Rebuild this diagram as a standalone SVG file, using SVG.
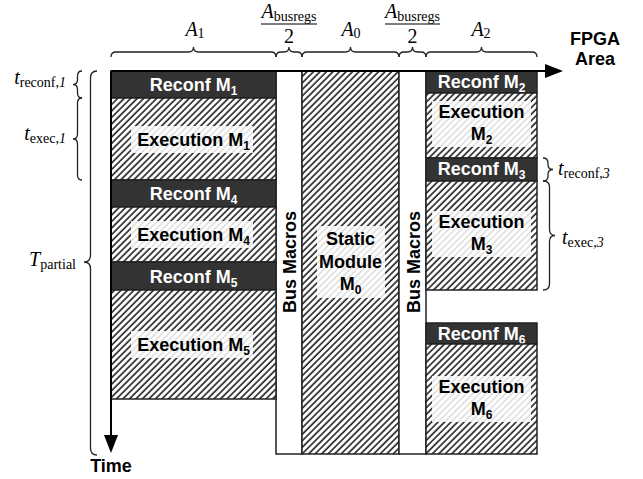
<svg xmlns="http://www.w3.org/2000/svg" width="643" height="479" viewBox="0 0 643 479">
<defs>
<pattern id="hatch" patternUnits="userSpaceOnUse" width="4.6" height="10" patternTransform="rotate(45)">
<rect width="4.6" height="10" fill="#fff"/>
<line x1="1" y1="0" x2="1" y2="10" stroke="#111" stroke-width="1.5"/>
</pattern>
<marker id="arr" markerUnits="userSpaceOnUse" markerWidth="20" markerHeight="16" refX="10" refY="7" orient="auto">
<path d="M0,0 L18,7 L0,14 z" fill="#000"/>
</marker>
</defs>
<style>
.hatch{fill:url(#hatch);stroke:#222;stroke-width:1.5}
.rc{fill:#333;stroke:#222;stroke-width:1.5}
.bus{fill:#fff;stroke:#222;stroke-width:1.5}
.lbl{font-family:"Liberation Sans",Arial,sans-serif;font-weight:bold;font-size:18px;text-anchor:middle}
.wl{fill:#fff}
.bl{fill:#000}
.bg{fill:#fff;opacity:0.85}
.sub{font-size:12px}
.m{font-family:"Liberation Serif","Times New Roman",serif;font-size:20px;fill:#000}
.it{font-style:italic}
.ms{font-size:14px}
.brace{fill:none;stroke:#222;stroke-width:1.3}
.axis{stroke:#000;stroke-width:2;fill:none}
</style>

<!-- Static and bus macro columns -->
<g id="busmacros-left">
<rect class="bus" x="276" y="71" width="26" height="383"/>
<text class="lbl bl" transform="translate(296,262) rotate(-90)" font-size="19">Bus Macros</text>
</g>
<g id="static-module">
<rect class="hatch" x="302" y="71" width="97" height="383"/>
<rect class="bg" x="317" y="226" width="68" height="72"/>
<text class="lbl bl" x="350.5" y="245">Static</text>
<text class="lbl bl" x="350.5" y="268">Module</text>
<text class="lbl bl" x="350.5" y="290">M<tspan class="sub" dy="4">0</tspan></text>
</g>
<g id="busmacros-right">
<rect class="bus" x="399" y="71" width="27" height="383"/>
<text class="lbl bl" transform="translate(420,262) rotate(-90)" font-size="19">Bus Macros</text>
</g>

<!-- A1 column -->
<g id="reconf-m1">
<rect class="rc" x="111" y="71" width="165" height="27"/>
<text class="lbl wl" x="193.5" y="91">Reconf M<tspan class="sub" dy="4">1</tspan></text>
</g>
<g id="exec-m1">
<rect class="hatch" x="111" y="98" width="165" height="82"/>
<rect class="bg" x="131" y="126" width="122" height="27"/>
<text class="lbl bl" x="193.5" y="146">Execution M<tspan class="sub" dy="4">1</tspan></text>
</g>
<g id="reconf-m4">
<rect class="rc" x="111" y="180" width="165" height="27"/>
<text class="lbl wl" x="193.5" y="200">Reconf M<tspan class="sub" dy="4">4</tspan></text>
</g>
<g id="exec-m4">
<rect class="hatch" x="111" y="207" width="165" height="55"/>
<rect class="bg" x="131" y="221" width="122" height="27"/>
<text class="lbl bl" x="193.5" y="241">Execution M<tspan class="sub" dy="4">4</tspan></text>
</g>
<g id="reconf-m5">
<rect class="rc" x="111" y="262" width="165" height="28"/>
<text class="lbl wl" x="193.5" y="283">Reconf M<tspan class="sub" dy="4">5</tspan></text>
</g>
<g id="exec-m5">
<rect class="hatch" x="111" y="290" width="165" height="109"/>
<rect class="bg" x="131" y="331" width="122" height="27"/>
<text class="lbl bl" x="193.5" y="351">Execution M<tspan class="sub" dy="4">5</tspan></text>
</g>

<!-- A2 column -->
<g id="reconf-m2">
<rect class="rc" x="426" y="71" width="111" height="22"/>
<text class="lbl wl" x="481.5" y="88">Reconf M<tspan class="sub" dy="4">2</tspan></text>
</g>
<g id="exec-m2">
<rect class="hatch" x="426" y="93" width="111" height="65"/>
<rect class="bg" x="432" y="101" width="99" height="46"/>
<text class="lbl bl" x="481.5" y="118">Execution</text>
<text class="lbl bl" x="481.5" y="140">M<tspan class="sub" dy="4">2</tspan></text>
</g>
<g id="reconf-m3">
<rect class="rc" x="426" y="158" width="111" height="23"/>
<text class="lbl wl" x="481.5" y="175">Reconf M<tspan class="sub" dy="4">3</tspan></text>
</g>
<g id="exec-m3">
<rect class="hatch" x="426" y="181" width="111" height="109"/>
<rect class="bg" x="432" y="211" width="99" height="46"/>
<text class="lbl bl" x="481.5" y="228">Execution</text>
<text class="lbl bl" x="481.5" y="250">M<tspan class="sub" dy="4">3</tspan></text>
</g>
<g id="reconf-m6">
<rect class="rc" x="426" y="323" width="111" height="21"/>
<text class="lbl wl" x="481.5" y="340">Reconf M<tspan class="sub" dy="4">6</tspan></text>
</g>
<g id="exec-m6">
<rect class="hatch" x="426" y="344" width="111" height="110"/>
<rect class="bg" x="432" y="376" width="99" height="46"/>
<text class="lbl bl" x="481.5" y="393">Execution</text>
<text class="lbl bl" x="481.5" y="415">M<tspan class="sub" dy="4">6</tspan></text>
</g>

<!-- Axes -->
<g id="connectors">
<line class="axis" x1="111" y1="71" x2="555" y2="71" marker-end="url(#arr)"/>
<line class="axis" x1="111" y1="71" x2="111" y2="445" marker-end="url(#arr)"/>
</g>

<!-- Braces -->
<g id="braces">
<path class="brace" d="M111,57 Q111,52 116,52 L188.5,52 Q193.5,52 193.5,47 Q193.5,52 198.5,52 L271,52 Q276,52 276,57"/>
<path class="brace" d="M276,57 Q276,52 281,52 L284,52 Q289,52 289,47 Q289,52 294,52 L297,52 Q302,52 302,57"/>
<path class="brace" d="M302,57 Q302,52 307,52 L345.5,52 Q350.5,52 350.5,47 Q350.5,52 355.5,52 L394,52 Q399,52 399,57"/>
<path class="brace" d="M399,57 Q399,52 404,52 L407.5,52 Q412.5,52 412.5,47 Q412.5,52 417.5,52 L421,52 Q426,52 426,57"/>
<path class="brace" d="M426,57 Q426,52 431,52 L476.5,52 Q481.5,52 481.5,47 Q481.5,52 486.5,52 L532,52 Q537,52 537,57"/>

<path class="brace" d="M82,71 Q77.5,71 77.5,76 L77.5,79.5 Q77.5,84.5 73,84.5 Q77.5,84.5 77.5,89.5 L77.5,93 Q77.5,98 82,98"/>
<path class="brace" d="M82,98 Q77.5,98 77.5,103 L77.5,134 Q77.5,139 73,139 Q77.5,139 77.5,144 L77.5,175 Q77.5,180 82,180"/>
<path class="brace" d="M97,71 Q90.5,71 90.5,78 L90.5,255 Q90.5,262 84,262 Q90.5,262 90.5,269 L90.5,448 Q90.5,455 97,455"/>

<path class="brace" d="M543,158 Q548,158 548,163 L548,164.5 Q548,169.5 553,169.5 Q548,169.5 548,174.5 L548,176 Q548,181 543,181"/>
<path class="brace" d="M543,181 Q549.5,181 549.5,187 L549.5,229.5 Q549.5,235.5 555,235.5 Q549.5,235.5 549.5,241.5 L549.5,284 Q549.5,290 543,290"/>
</g>

<!-- Labels -->
<g id="labels">
<text class="m" x="195" y="36" text-anchor="middle"><tspan class="it">A</tspan><tspan class="ms" dy="2">1</tspan></text>
<text class="m" x="289" y="18" text-anchor="middle"><tspan class="it">A</tspan><tspan class="ms" font-size="14.5" dy="3">busregs</tspan></text>
<line x1="261" y1="24" x2="317" y2="24" stroke="#000" stroke-width="1"/>
<text class="m" x="289" y="43" text-anchor="middle">2</text>
<text class="m" x="351" y="36" text-anchor="middle"><tspan class="it">A</tspan><tspan class="ms" dy="2">0</tspan></text>
<text class="m" x="412.5" y="18" text-anchor="middle"><tspan class="it">A</tspan><tspan class="ms" font-size="14.5" dy="3">busregs</tspan></text>
<line x1="385" y1="24" x2="440" y2="24" stroke="#000" stroke-width="1"/>
<text class="m" x="412.5" y="43" text-anchor="middle">2</text>
<text class="m" x="481" y="36" text-anchor="middle"><tspan class="it">A</tspan><tspan class="ms" dy="2">2</tspan></text>

<text class="lbl bl" x="595" y="45">FPGA</text>
<text class="lbl bl" x="595" y="65">Area</text>
<text class="lbl bl" x="111" y="472">Time</text>

<text class="m" x="66" y="84" text-anchor="end"><tspan class="it">t</tspan><tspan class="ms" font-size="13" dy="3">reconf,</tspan><tspan class="it ms" font-size="13">1</tspan></text>
<text class="m" x="66" y="140" text-anchor="end"><tspan class="it">t</tspan><tspan class="ms" font-size="13" dy="3">exec,</tspan><tspan class="it ms" font-size="13">1</tspan></text>
<text class="m" x="76" y="266" text-anchor="end"><tspan class="it">T</tspan><tspan class="ms" font-size="13" dy="3">partial</tspan></text>
<text class="m" x="558" y="175"><tspan class="it">t</tspan><tspan class="ms" font-size="13" dy="3">reconf,</tspan><tspan class="it ms" font-size="13">3</tspan></text>
<text class="m" x="562" y="244"><tspan class="it">t</tspan><tspan class="ms" font-size="13" dy="3">exec,</tspan><tspan class="it ms" font-size="13">3</tspan></text>
</g>
</svg>
